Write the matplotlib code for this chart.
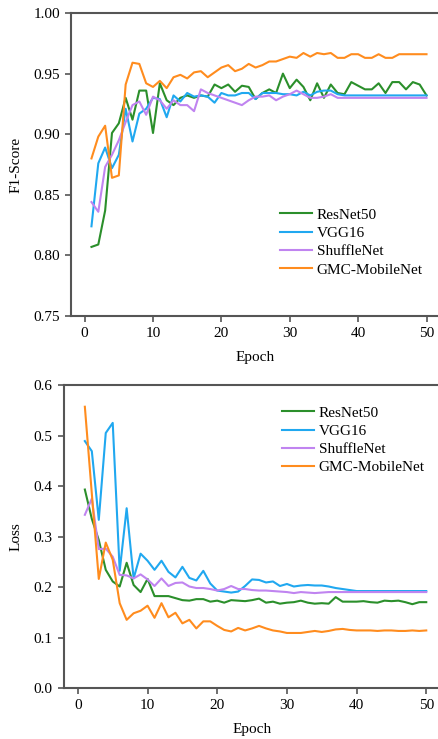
import matplotlib as mpl
mpl.use('Agg')
import matplotlib.pyplot as plt
import numpy as np

mpl.rc('font', family='Liberation Serif', size=11)

epochs = np.arange(1, 51)
names = ['ResNet50', 'VGG16', 'ShuffleNet', 'GMC-MobileNet']
colors = ['#2b8f2b', '#20a8f0', '#c084f0', '#ff8c1e']

# F1-score per epoch
f1_resnet = [0.807, 0.809, 0.837, 0.901, 0.909, 0.930, 0.912, 0.936, 0.936, 0.901,
             0.942, 0.928, 0.924, 0.930, 0.932, 0.930, 0.932, 0.931, 0.941, 0.938,
             0.941, 0.935, 0.940, 0.939, 0.929, 0.934, 0.937, 0.934, 0.950, 0.938,
             0.945, 0.939, 0.928, 0.942, 0.930, 0.941, 0.934, 0.933, 0.943, 0.940,
             0.937, 0.937, 0.942, 0.934, 0.943, 0.943, 0.937, 0.943, 0.941, 0.932]
f1_vgg = [0.824, 0.876, 0.889, 0.872, 0.883, 0.921, 0.894, 0.917, 0.921, 0.930,
          0.929, 0.914, 0.932, 0.927, 0.934, 0.931, 0.932, 0.931, 0.926, 0.934,
          0.932, 0.932, 0.934, 0.934, 0.929, 0.934, 0.934, 0.934, 0.933, 0.933,
          0.932, 0.935, 0.932, 0.935, 0.936, 0.936, 0.933, 0.932, 0.932, 0.932,
          0.932, 0.932, 0.932, 0.932, 0.932, 0.932, 0.932, 0.932, 0.932, 0.932]
f1_shuffle = [0.844, 0.836, 0.873, 0.883, 0.895, 0.910, 0.924, 0.927, 0.916, 0.931,
              0.928, 0.921, 0.928, 0.924, 0.924, 0.919, 0.937, 0.934, 0.932, 0.930,
              0.928, 0.926, 0.924, 0.928, 0.931, 0.931, 0.932, 0.928, 0.931, 0.933,
              0.936, 0.933, 0.930, 0.930, 0.931, 0.933, 0.930, 0.930, 0.930, 0.930,
              0.930, 0.930, 0.930, 0.930, 0.930, 0.930, 0.930, 0.930, 0.930, 0.930]
f1_gmc = [0.880, 0.898, 0.907, 0.864, 0.866, 0.941, 0.959, 0.958, 0.942, 0.939,
          0.944, 0.938, 0.947, 0.949, 0.946, 0.951, 0.952, 0.947, 0.951, 0.955,
          0.957, 0.952, 0.954, 0.958, 0.955, 0.957, 0.960, 0.960, 0.962, 0.964,
          0.963, 0.967, 0.964, 0.967, 0.966, 0.967, 0.963, 0.963, 0.966, 0.966,
          0.963, 0.963, 0.966, 0.963, 0.963, 0.966, 0.966, 0.966, 0.966, 0.966]

# loss per epoch
loss_resnet = [0.393, 0.335, 0.293, 0.234, 0.211, 0.201, 0.248, 0.204, 0.190, 0.216,
               0.182, 0.182, 0.182, 0.178, 0.174, 0.173, 0.176, 0.176, 0.171, 0.173,
               0.169, 0.174, 0.173, 0.172, 0.174, 0.177, 0.169, 0.171, 0.167, 0.169,
               0.170, 0.173, 0.169, 0.167, 0.168, 0.167, 0.180, 0.171, 0.171, 0.171,
               0.172, 0.170, 0.169, 0.173, 0.172, 0.173, 0.170, 0.166, 0.170, 0.170]
loss_vgg = [0.489, 0.469, 0.333, 0.505, 0.525, 0.232, 0.356, 0.217, 0.266, 0.252,
            0.234, 0.252, 0.230, 0.219, 0.240, 0.218, 0.213, 0.232, 0.207, 0.193,
            0.191, 0.189, 0.191, 0.202, 0.215, 0.214, 0.209, 0.211, 0.202, 0.206,
            0.201, 0.203, 0.204, 0.203, 0.203, 0.201, 0.198, 0.196, 0.194, 0.192,
            0.192, 0.192, 0.192, 0.192, 0.192, 0.192, 0.192, 0.192, 0.192, 0.192]
loss_shuffle = [0.343, 0.375, 0.275, 0.276, 0.260, 0.224, 0.223, 0.217, 0.225, 0.215,
                0.202, 0.217, 0.202, 0.208, 0.209, 0.201, 0.198, 0.198, 0.196, 0.193,
                0.196, 0.202, 0.196, 0.196, 0.194, 0.193, 0.193, 0.192, 0.191, 0.190,
                0.188, 0.190, 0.189, 0.188, 0.189, 0.190, 0.190, 0.190, 0.190, 0.190,
                0.190, 0.190, 0.190, 0.190, 0.190, 0.190, 0.190, 0.190, 0.190, 0.190]
loss_gmc = [0.557, 0.385, 0.216, 0.288, 0.254, 0.168, 0.135, 0.148, 0.153, 0.163,
            0.139, 0.168, 0.140, 0.149, 0.128, 0.135, 0.118, 0.132, 0.132, 0.123,
            0.115, 0.112, 0.119, 0.114, 0.118, 0.123, 0.118, 0.114, 0.112, 0.109,
            0.109, 0.109, 0.111, 0.113, 0.111, 0.113, 0.116, 0.117, 0.115, 0.114,
            0.114, 0.114, 0.113, 0.114, 0.114, 0.113, 0.113, 0.114, 0.113, 0.114]

f1_all = [f1_resnet, f1_vgg, f1_shuffle, f1_gmc]
loss_all = [loss_resnet, loss_vgg, loss_shuffle, loss_gmc]

fig = plt.figure(figsize=(4.38, 7.39), dpi=100)
fig.patch.set_facecolor('w')

ax1 = fig.add_axes([0.162, 0.5724, 0.843, 0.41])
ax2 = fig.add_axes([0.146, 0.069, 0.859, 0.41])


def style(ax):
    for sp in ax.spines.values():
        sp.set_color('#555555')
        sp.set_linewidth(1.5)
    ax.tick_params(direction='out', length=4, width=1.2, color='#555555',
                   labelsize=11, pad=4)
    ax.set_xlim(-2, 52)
    ax.set_xticks([0, 10, 20, 30, 40, 50])
    ax.set_xlabel('Epoch', fontsize=11, labelpad=8)


for vals, name, c in zip(f1_all, names, colors):
    l, = ax1.plot(epochs, vals)
    plt.setp(l, color=c, linewidth=1.5, label=name)
style(ax1)
ax1.set_ylim(0.75, 1.00)
ax1.set_yticks([0.75, 0.80, 0.85, 0.90, 0.95, 1.00])
ax1.set_yticklabels(['%.2f' % v for v in [0.75, 0.80, 0.85, 0.90, 0.95, 1.00]])
ax1.set_ylabel('F1-Score', fontsize=11, labelpad=8)
ax1.legend(loc='center left', bbox_to_anchor=(0.566, 0.243), frameon=False,
           borderpad=0, borderaxespad=0, handlelength=2.1, handletextpad=0.3,
           labelspacing=0.3, fontsize=11)

for vals, name, c in zip(loss_all, names, colors):
    l, = ax2.plot(epochs, vals)
    plt.setp(l, color=c, linewidth=1.5, label=name)
style(ax2)
ax2.set_ylim(0.0, 0.6)
ax2.set_yticks([0.0, 0.1, 0.2, 0.3, 0.4, 0.5, 0.6])
ax2.set_yticklabels(['%.1f' % v for v in [0.0, 0.1, 0.2, 0.3, 0.4, 0.5, 0.6]])
ax2.set_ylabel('Loss', fontsize=11, labelpad=8)
ax2.legend(loc='center left', bbox_to_anchor=(0.58, 0.818), frameon=False,
           borderpad=0, borderaxespad=0, handlelength=2.1, handletextpad=0.3,
           labelspacing=0.3, fontsize=11)

plt.savefig('out.png', dpi=100, facecolor='w')
plt.close(fig)
